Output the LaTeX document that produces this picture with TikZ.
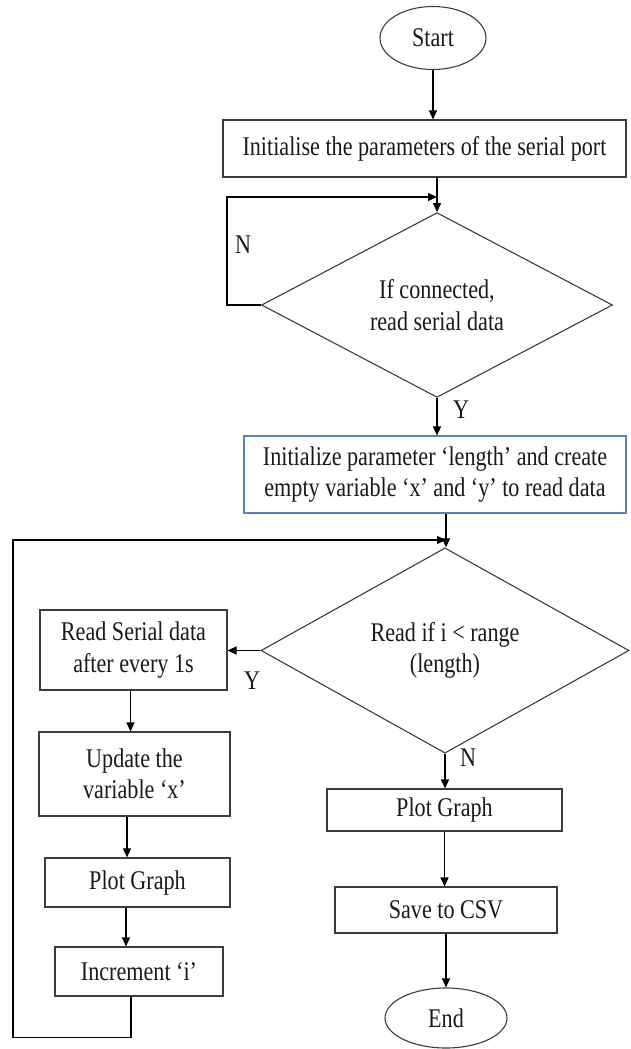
\documentclass[tikz,border=0pt]{standalone}
\usepackage{fontspec}
\setmainfont{Liberation Serif}[FakeStretch=0.82]
\usetikzlibrary{shapes.geometric,arrows.meta}
\definecolor{boxline}{RGB}{60,60,60}
\definecolor{blueline}{RGB}{84,130,186}
\definecolor{txt}{RGB}{25,25,25}
\tikzset{
  base/.style={draw=boxline,line width=1.1pt,text=txt,inner sep=0pt,align=center,
    font=\fontsize{27}{31.5}\selectfont},
  procbox/.style={base,rectangle},
  termbox/.style={base,ellipse},
  decbox/.style={base,diamond},
  arr/.style={draw=black,line width=1.3pt,-{Triangle[length=9pt,width=8pt]}},
  lbl/.style={text=txt,inner sep=0pt,font=\fontsize{27}{31.5}\selectfont}
}
\begin{document}
\begin{tikzpicture}[x=1pt,y=-1pt]
\useasboundingbox (0,0) rectangle (630,1049);
% nodes
\node[termbox,minimum width=106pt,minimum height=63pt] (start) at (433,38) {Start};
\node[procbox,minimum width=403pt,minimum height=57pt] (init) at (424.5,148.5) {Initialise the parameters of the serial port};
\node[decbox,minimum width=351pt,minimum height=148pt] (d1) at (437,305) {If connected,\\read serial data};
\node[procbox,draw=blueline,minimum width=382pt,minimum height=77pt] (box2) at (435,474.5) {Initialize parameter ‘length’ and create\\empty variable ‘x’ and ‘y’ to read data};
\node[decbox,minimum width=368pt,minimum height=167pt] (d2) at (445,650.5) {Read if i < range\\(length)};
\node[procbox,minimum width=187pt,minimum height=80pt] (read) at (133.5,650) {Read Serial data\\after every 1s};
\node[procbox,minimum width=191pt,minimum height=84pt] (update) at (134.5,774) {Update the\\variable ‘x’};
\node[procbox,minimum width=185pt,minimum height=49pt] (plotl) at (137.5,882.5) {Plot Graph};
\node[procbox,minimum width=168pt,minimum height=49pt] (incr) at (139,971.5) {Increment ‘i’};
\node[procbox,minimum width=235pt,minimum height=42pt] (plotr) at (444.5,810) {Plot Graph};
\node[procbox,minimum width=222pt,minimum height=46pt] (save) at (446,910) {Save to CSV};
\node[termbox,minimum width=122pt,minimum height=60pt] (end) at (446,1018) {End};
% labels
\node[lbl] (n1) at (243,245) {N};
\node[lbl] (y1) at (461,410) {Y};
\node[lbl] (y2) at (252,681) {Y};
\node[lbl] (n2) at (468,758) {N};
% junctions
\coordinate (j1) at (437,197);
\coordinate (j2) at (446,540);
% connectors
\draw[arr] (start.south) -- (start.south |- init.north);
\draw[arr] (init.south -| d1.north) -- (d1.north);
\draw[arr] (d1.west) -- ++(-34,0) |- (j1);
\draw[arr] (d1.south) -- (d1.south |- box2.north);
\draw[arr] (box2.south -| j2) -- (d2.north -| j2);
\draw[arr] (d2.west) -- (read.east |- d2.west);
\draw[arr] ([xshift=-3pt]read.south) -- ([xshift=-3pt]read.south |- update.north);
\draw[arr] ([xshift=-7.5pt]update.south) -- ([xshift=-7.5pt]update.south |- plotl.north);
\draw[arr] ([xshift=-11.5pt]plotl.south) -- ([xshift=-11.5pt]plotl.south |- incr.north);
\draw[arr] ([xshift=-8pt]incr.south) -- ++(0,41) -| (13,540) -- (j2);
\draw[arr] (d2.south) -- (d2.south |- plotr.north);
\draw[arr] (plotr.south) -- (plotr.south |- save.north);
\draw[arr] (save.south) -- (save.south |- end.north);
\end{tikzpicture}
\end{document}
